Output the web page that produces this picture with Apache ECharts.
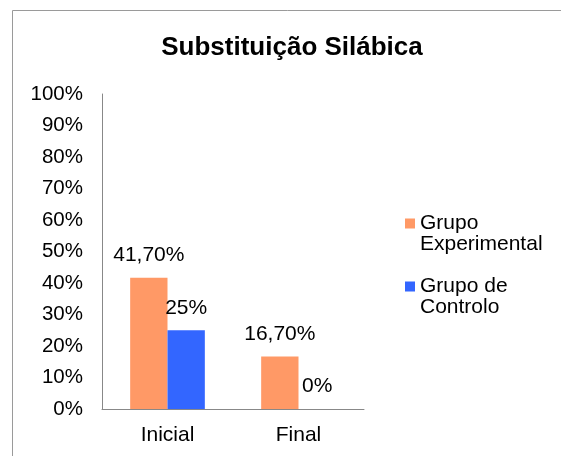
<!DOCTYPE html>
<html>
<head>
<meta charset="utf-8">
<script src="https://cdn.jsdelivr.net/npm/echarts@6/dist/echarts.min.js"></script>
<style>
  html, body { margin: 0; padding: 0; background: #ffffff; }
  #chart { width: 561px; height: 456px; }
</style>
</head>
<body>
<div id="chart"></div>
<script>
// Chart data
const chartTitle = 'Substituição Silábica';
const categories = ['Inicial', 'Final'];
const seriesNames = ['Grupo\nExperimental', 'Grupo de\nControlo'];
const experimentalValues = [41.7, 16.7];
const controlValues = [25, 0];
const colors = ['#FF9966', '#3366FF'];

const FONT = '"Liberation Sans", Arial, sans-serif';

// Percent label in Portuguese style: 41,70% / 25%
function pctLabel(v) {
  return Number.isInteger(v) ? v + '%' : v.toFixed(2).replace('.', ',') + '%';
}

// Legend marker: a 10x10 square sitting at the top of a 10x31 box, so it
// lines up with the first line of the two-line legend text.
const legendIcon = 'path://M0,0h10v10h-10z M0,31h0.01v0.01h-0.01z';

const chart = echarts.init(document.getElementById('chart'), null, { renderer: 'canvas' });

const barLabel = {
  show: true,
  position: 'top',
  distance: 12,
  color: '#000',
  fontFamily: FONT,
  fontSize: 21,
  formatter: p => pctLabel(p.value)
};

chart.setOption({
  animation: false,
  backgroundColor: '#ffffff',
  title: {
    text: chartTitle,
    left: 287,
    top: 43,
    textAlign: 'center',
    textVerticalAlign: 'middle',
    textStyle: { fontFamily: FONT, fontSize: 26, fontWeight: 'bold', color: '#000' }
  },
  graphic: [{
    type: 'rect',
    shape: { x: 12.5, y: 10.5, width: 600, height: 500 },
    style: { fill: 'none', stroke: '#9a9a9a', lineWidth: 1 },
    silent: true
  }],
  legend: {
    orient: 'vertical',
    left: 400,
    top: 208,
    itemWidth: 10,
    itemHeight: 31,
    itemGap: 21,
    icon: legendIcon,
    textStyle: {
      fontFamily: FONT,
      fontSize: 21,
      lineHeight: 21,
      color: '#000'
    },
    data: seriesNames
  },
  grid: { left: 102, right: 197, top: 94, bottom: 47, containLabel: false },
  xAxis: {
    type: 'category',
    data: categories,
    axisLine: { lineStyle: { color: '#888', width: 1 } },
    axisTick: { show: false },
    axisLabel: { margin: 16, color: '#000', fontFamily: FONT, fontSize: 21 }
  },
  yAxis: {
    type: 'value',
    min: 0,
    max: 100,
    interval: 10,
    splitLine: { show: false },
    axisLine: { show: true, lineStyle: { color: '#888', width: 1 } },
    axisTick: { show: false },
    axisLabel: { margin: 19, color: '#000', fontFamily: FONT, fontSize: 20.5, formatter: '{value}%' }
  },
  series: [
    {
      name: seriesNames[0],
      type: 'bar',
      data: experimentalValues,
      barGap: '0%',
      barCategoryGap: '43%',
      itemStyle: { color: colors[0] },
      label: barLabel
    },
    {
      name: seriesNames[1],
      type: 'bar',
      data: controlValues,
      itemStyle: { color: colors[1] },
      label: barLabel
    }
  ]
});
</script>
</body>
</html>
